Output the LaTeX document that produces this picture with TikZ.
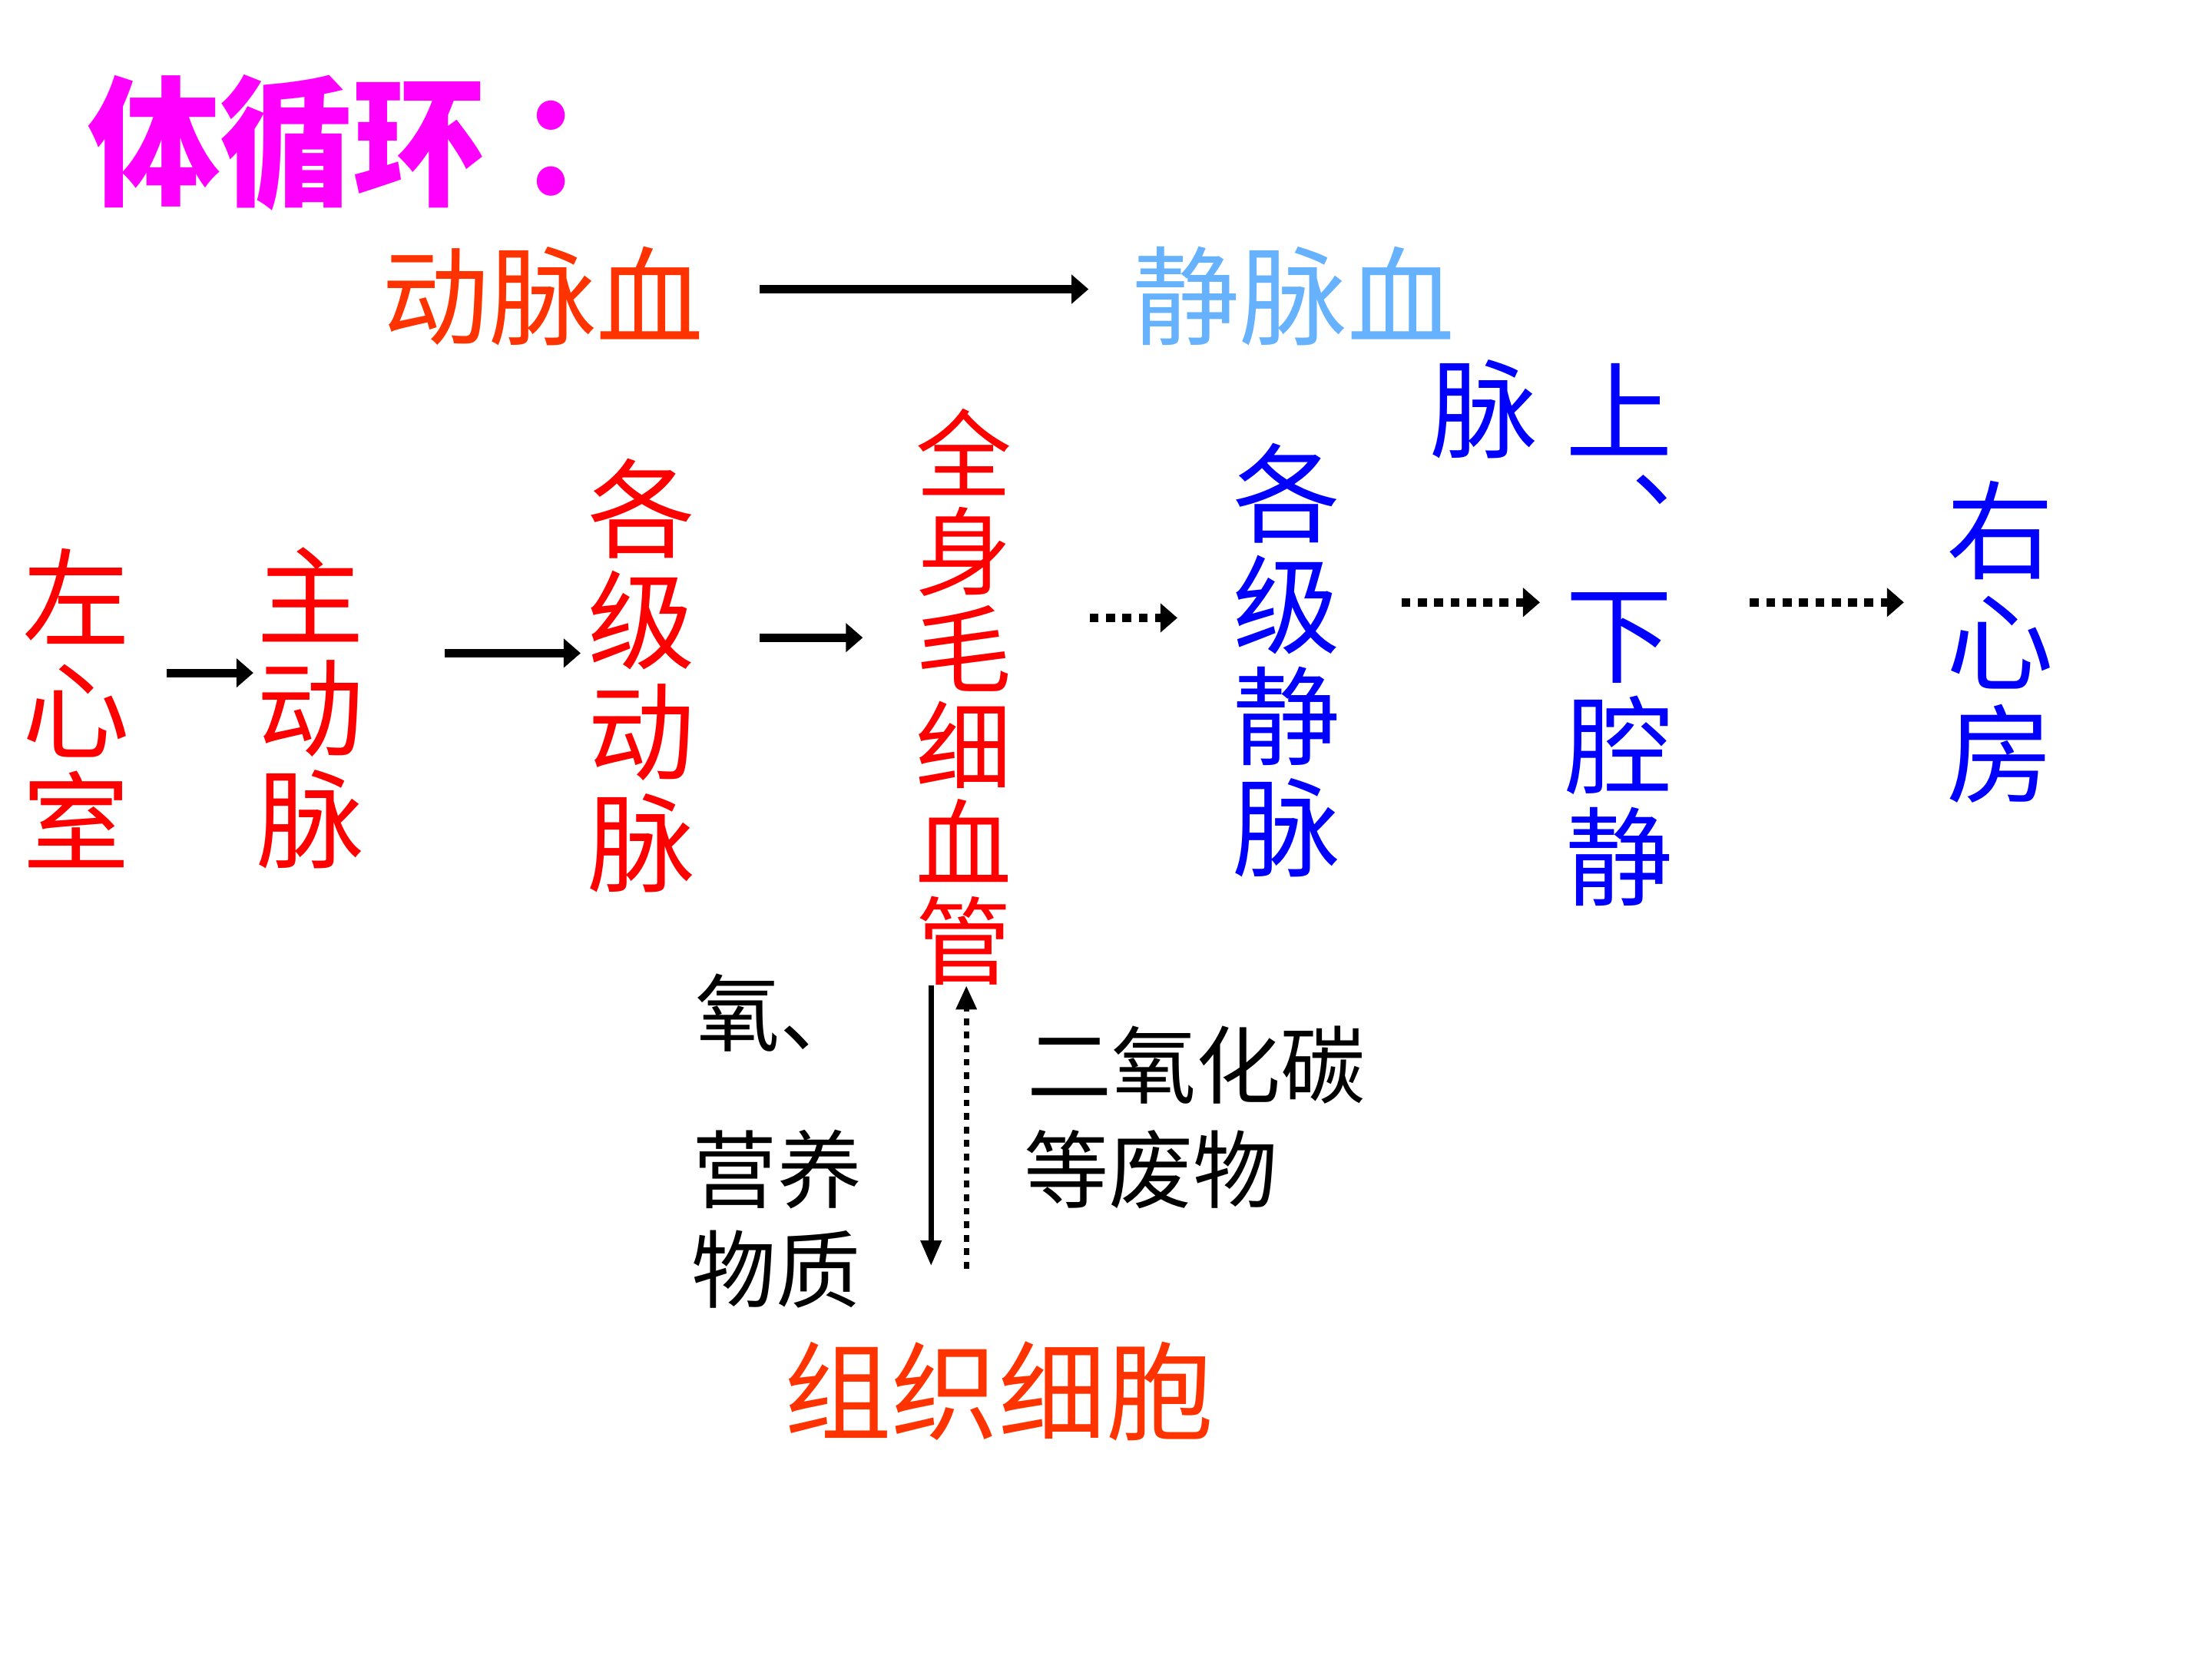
\documentclass[tikz,border=0pt]{standalone}
\usepackage{fontspec}
\newfontfamily\cjk{Noto Sans CJK SC}
\usetikzlibrary{arrows.meta}
\definecolor{magentaT}{RGB}{255,0,255}
\definecolor{orangeR}{RGB}{255,51,0}
\definecolor{lightB}{RGB}{102,178,255}
\definecolor{blueB}{RGB}{0,0,255}
\definecolor{redR}{RGB}{255,0,0}
\tikzset{
  col/.style={inner sep=0pt, align=center, font=\cjk\fontsize{38pt}{39.5pt}\selectfont},
  capcol/.style={inner sep=0pt, align=center, font=\cjk\fontsize{34pt}{34.5pt}\selectfont, text=redR},
  head/.style={inner sep=0pt, font=\cjk\fontsize{38pt}{38pt}\selectfont},
  blk/.style={inner sep=0pt, text=black, font=\cjk\fontsize{30pt}{30pt}\selectfont},
  arr/.style={line width=3pt, -{Triangle[length=6pt,width=10pt]}},
  darr/.style={line width=3pt, dash pattern=on 3.2pt off 2.6pt, -{Triangle[length=6pt,width=10pt]}},
  varr/.style={line width=2pt, -{Triangle[length=9pt,width=7pt]}},
  vdarr/.style={line width=2pt, dash pattern=on 2.4pt off 2.4pt, -{Triangle[length=8.5pt,width=7pt]}},
}
\begin{document}
\begin{tikzpicture}[x=0.5pt,y=-0.5pt]
\useasboundingbox (0,0) rectangle (1568,1176);
% title
\node[inner sep=0pt, anchor=west, text=magentaT, font=\cjk\bfseries\fontsize{46pt}{46pt}\selectfont] (title) at (62,101) {\scalebox{1.02}[1.08]{体循环\hspace{0.25em}：}};
% header
\node[head, text=orangeR] (ab) at (385,210) {动脉血};
\node[head, text=lightB] (vb) at (917,210) {静脉血};
% columns
\node[col, text=redR] (lv) at (54,502) {左\\心\\室};
\node[col, text=redR] (ao) at (220,502) {主\\动\\脉};
\node[col, text=redR] (ag) at (455,479) {各\\级\\动\\脉};
\node[capcol] (cap) at (683,494) {全\\身\\毛\\细\\血\\管};
\node[col, text=blueB] (vg) at (912,468) {各\\级\\静\\脉};
\node[col, text=blueB] (sx) at (1148,450) {上\\︑\\下\\腔\\静};
\node[col, text=blueB] (mai) at (1052,290) {脉};
\node[col, text=blueB] (ra) at (1418,455) {右\\心\\房};
% black labels
\node[blk] (o2) at (553,718) {氧、};
\node[blk] (yy) at (551,829) {营养};
\node[blk] (wz) at (550,900) {物质};
\node[blk] (co2) at (848,755) {二氧化碳};
\node[blk] (fw) at (816,829) {等废物};
\node[head, text=orangeR] (tc) at (708,986) {组织细胞};
% arrow levels
\coordinate (y0) at (0,205);
\coordinate (y1) at (0,477);
\coordinate (y2) at (0,463);
\coordinate (y3) at (0,452);
\coordinate (y4) at (0,438);
\coordinate (y5) at (0,427);
\coordinate (xd) at (660,0);
\coordinate (xu) at (685,0);
\draw[arr, shorten <=19.5pt, shorten >=15.5pt] (ab.east |- y0) -- (vb.west |- y0);
\draw[arr, shorten <=13pt, shorten >=1pt] (lv.east |- y1) -- (ao.west |- y1);
\draw[arr, shorten <=28.5pt, shorten >=2.5pt] (ao.east |- y2) -- (ag.west |- y2);
\draw[arr, shorten <=22.5pt, shorten >=18.5pt] (ag.east |- y3) -- (cap.west |- y3);
\draw[darr, shorten <=27.5pt, shorten >=19.5pt] (cap.east |- y4) -- (vg.west |- y4);
\draw[darr, shorten <=21.5pt, shorten >=9pt] (vg.east |- y5) -- (sx.west |- y5);
\draw[darr, shorten <=27pt, shorten >=15pt] (sx.east |- y5) -- (ra.west |- y5);
\draw[varr, shorten >=26.5pt] (cap.south -| xd) -- (tc.north -| xd);
\draw[vdarr, shorten <=25.5pt] (tc.north -| xu) -- (cap.south -| xu);
\end{tikzpicture}
\end{document}
